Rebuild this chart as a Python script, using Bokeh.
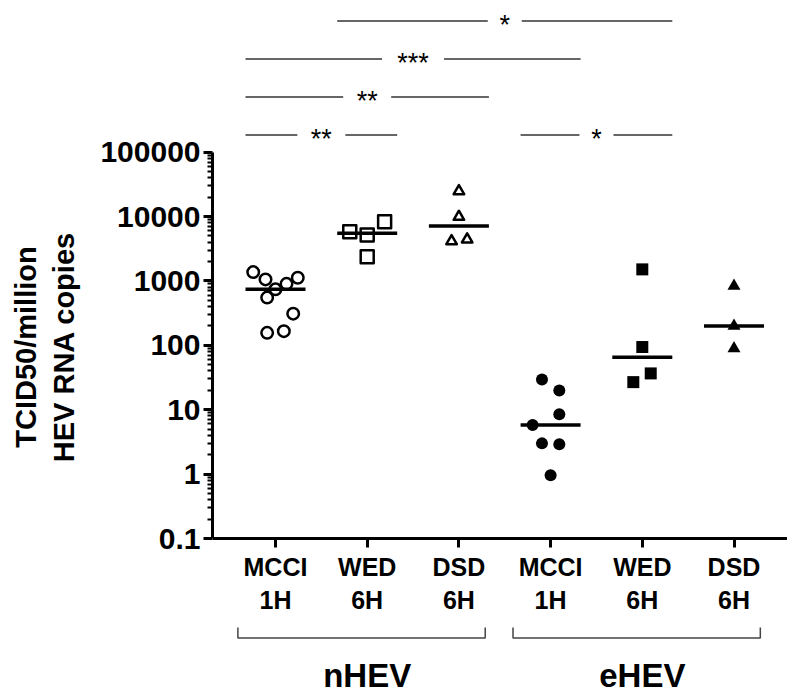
import numpy as np
from bokeh.plotting import figure
from bokeh.models import Range1d, FixedTicker, CustomJSTickFormatter
from bokeh.core.properties import value
from bokeh.embed import file_html
from bokeh.resources import INLINE

# ---------------- data ----------------
tick_labels = ["MCCI\n1H", "WED\n6H", "DSD\n6H", "MCCI\n1H", "WED\n6H", "DSD\n6H"]
group_names = ["nHEV", "eHEV"]
y_ticks = [0.1, 1, 10, 100, 1000, 10000, 100000]

nhev_mcci_1h = [1370, 1055, 740, 900, 1120, 550, 310, 156, 166]
nhev_wed_6h = [5800, 5150, 8300, 2370]
nhev_dsd_6h = [24800, 9900, 4150, 4400]
ehev_mcci_1h = [29.5, 19.9, 8.5, 5.8, 3.0, 2.9, 0.96]
ehev_wed_6h = [1510, 94, 36.6, 26.8]
ehev_dsd_6h = [830, 199, 89.5]
series = [nhev_mcci_1h, nhev_wed_6h, nhev_dsd_6h, ehev_mcci_1h, ehev_wed_6h, ehev_dsd_6h]

# significance comparisons: (group a, group b, stars)
comparisons = [(0, 1, "**"), (3, 4, "*"), (0, 2, "**"), (0, 3, "***"), (1, 4, "*")]
comp_rows = [0, 0, 1, 2, 3]

# ---------------- layout / style ----------------
jitter = [
    [-0.243, -0.109, 0.0, 0.12, 0.243, -0.091, 0.193, -0.091, 0.091],
    [-0.19, 0.0, 0.19, 0.0],
    [0.0, 0.0, -0.08, 0.09],
    [-0.094, 0.095, 0.095, -0.196, -0.094, 0.095, 0.0],
    [0.0, 0.0, 0.092, -0.098],
    [0.0, 0.0, 0.0],
]
styles = [
    dict(marker="circle", size=11.5, fill_color=None, line_width=2.5),
    dict(marker="square", size=13, fill_color=None, line_width=2.5),
    dict(marker="triangle", size=10.5, fill_color=None, line_width=2.5),
    dict(marker="circle", size=12, fill_color="black", line_width=0),
    dict(marker="square", size=12, fill_color="black", line_width=0),
    dict(marker="triangle", size=13, fill_color="black", line_width=0),
]

PPD = 64.4          # pixels per decade
PPG = 91.7          # pixels per group
W, H = 787, 693
LEFT = 212
AXIS_Y = 538        # pixel row of y = 0.1
TOP_DEC = -1 + AXIS_Y / PPD
BOT_DEC = TOP_DEC - H / PPD
x_pos = np.arange(1, len(series) + 1)
x0 = 1 - (275 - LEFT) / PPG
x1 = x0 + (W - LEFT) / PPG

FONT = "Liberation Sans"


def above_top(px):
    return 10 ** (5 + px / PPD)


def below_axis(px):
    return 10 ** (-1 - px / PPD)


p = figure(width=W, height=H, x_range=Range1d(x0, x1),
           y_range=Range1d(10 ** BOT_DEC, 10 ** TOP_DEC), y_axis_type="log",
           output_backend="svg", toolbar_location=None,
           min_border_left=LEFT, min_border_right=0, min_border_top=0, min_border_bottom=0)
p.outline_line_color = None
p.xgrid.visible = False
p.ygrid.visible = False
p.background_fill_color = "white"
p.border_fill_color = "white"

# y axis
ya = p.yaxis[0]
ya.bounds = (0.1, 100000)
minor = [m * 10.0 ** k for k in range(-1, 5) for m in range(2, 10)]
ya.ticker = FixedTicker(ticks=y_ticks, minor_ticks=minor)
ya.formatter = CustomJSTickFormatter(code="return tick.toString()")
ya.axis_line_width = 3
ya.major_tick_line_width = 3
ya.minor_tick_line_width = 2
ya.major_tick_out = 9
ya.major_tick_in = 0
ya.minor_tick_out = 5
ya.minor_tick_in = 0
ya.major_label_standoff = 3
ya.major_label_text_font = FONT
ya.major_label_text_font_style = "bold"
ya.major_label_text_font_size = "30px"
ya.major_label_text_color = "black"
ya.axis_label = "TCID50/million\nHEV RNA copies"
ya.axis_label_text_font = FONT
ya.axis_label_text_font_style = "bold"
ya.axis_label_text_font_size = "29px"
ya.axis_label_text_color = "black"
ya.axis_label_standoff = 17

# x axis (drawn at y = 0.1)
xa = p.xaxis[0]
xa.fixed_location = 0.1
xa.ticker = FixedTicker(ticks=list(x_pos))
xa.major_label_overrides = {int(x): lbl for x, lbl in zip(x_pos, tick_labels)}
xa.axis_line_width = 3
xa.major_tick_line_width = 3
xa.major_tick_out = 9
xa.major_tick_in = 0
xa.minor_tick_out = 0
xa.minor_tick_in = 0
xa.major_label_standoff = 5
xa.major_label_text_font = FONT
xa.major_label_text_font_style = "bold"
xa.major_label_text_font_size = "25px"
xa.major_label_text_color = "black"

# medians
half = 30 / PPG
for xc, vals in zip(x_pos, series):
    med = float(np.median(vals))
    p.segment(x0=[xc - half], x1=[xc + half], y0=[med], y1=[med],
              line_width=3.5, line_color="black")

# points
for xc, vals, jit, st in zip(x_pos, series, jitter, styles):
    p.scatter(x=[xc + j for j in jit], y=vals, marker=st["marker"], size=st["size"],
              fill_color=st["fill_color"], line_color="black",
              line_width=st["line_width"], line_join="round")

# significance bars
for (a, b, stars), row in zip(comparisons, comp_rows):
    yv = above_top(17 + 38 * row)
    xa_ = x_pos[a] - half
    xb_ = x_pos[b] + half
    mid = (xa_ + xb_) / 2
    gap = (10 + 7 * len(stars)) / PPG
    p.segment(x0=[xa_, mid + gap], x1=[mid - gap, xb_], y0=[yv, yv], y1=[yv, yv],
              line_width=1.5, line_color="#333333")
    p.text(x=[mid], y=[yv], text=[stars], text_align="center", text_baseline="alphabetic",
           y_offset=4, text_font=value(FONT), text_font_size="27px", text_color="black")

# group brackets and names
yb_top = below_axis(89)
yb_bot = below_axis(99.5)
for gi, name in enumerate(group_names):
    first = x_pos[gi * 3]
    last = x_pos[gi * 3 + 2]
    xl = first - 0.41
    xr = last + 0.287
    p.line(x=[xl, xl, xr, xr], y=[yb_top, yb_bot, yb_bot, yb_top],
           line_width=1.5, line_color="#444444")
    p.text(x=[(first + last) / 2], y=[below_axis(137)], text=[name], text_align="center",
           text_baseline="middle", text_font=value(FONT), text_font_style="bold",
           text_font_size="33px", text_color="black")

open("out.html", "w").write(file_html(p, INLINE))
